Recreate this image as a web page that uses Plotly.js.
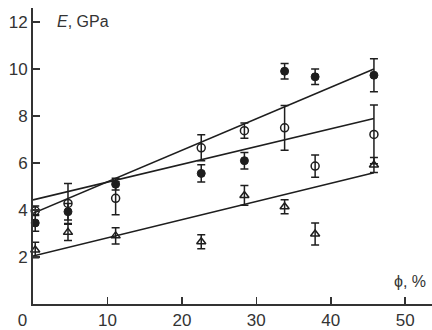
<!DOCTYPE html>
<html><head><meta charset="utf-8">
<script src="https://cdn.plot.ly/plotly-3.0.1.min.js"></script>
<style>html,body{margin:0;padding:0;background:#fff}#c{width:432px;height:330px}</style>
</head><body><div id="c"></div>
<script>
// phi, % positions
const phiFilled = [0.3, 4.7, 11.1, 22.6, 28.4, 33.8, 37.9, 45.8];
const eFilled   = [3.45, 3.93, 5.1, 5.56, 6.1, 9.91, 9.67, 9.74];
const errFilled = [0.35, 0.35, 0.25, 0.37, 0.35, 0.33, 0.33, 0.7];

const phiOpen = [0.3, 4.7, 11.1, 22.6, 28.4, 33.8, 37.9, 45.8];
const eOpen   = [3.97, 4.28, 4.5, 6.65, 7.38, 7.5, 5.87, 7.22];
const errOpen = [0.2, 0.85, 0.7, 0.55, 0.32, 0.95, 0.47, 1.25];

const phiTri = [0.3, 4.7, 11.1, 22.6, 28.4, 33.8, 37.9, 45.8];
const eTri   = [2.3, 3.05, 2.9, 2.65, 4.62, 4.14, 2.98, 5.92];
const errTri = [0.33, 0.35, 0.35, 0.3, 0.42, 0.3, 0.47, 0.32];

// fitted straight lines (endpoints)
const fitPhi    = [0, 45.8];
const fitFilled = [3.86, 10.0];
const fitOpen   = [4.43, 7.9];
const fitTri    = [2.04, 5.59];

const xTicks = [0, 10, 20, 30, 40, 50];
const xTickText = ['0\u2003\u2005', '10', '20', '30', '40', '50'];
const yTicks = [2, 4, 6, 8, 10, 12];

const ink = '#1e1e1e';
const eb = (a) => ({type:'data', array:a, visible:true, color:ink, thickness:1.5, width:4});
const lineTrace = (y) => ({x:fitPhi, y:y, mode:'lines', line:{color:ink, width:1.6}, hoverinfo:'skip', showlegend:false});

const data = [
  lineTrace(fitFilled), lineTrace(fitOpen), lineTrace(fitTri),
  {x:phiFilled, y:eFilled, mode:'markers', error_y:eb(errFilled), cliponaxis:false,
   marker:{symbol:'circle', size:8, color:ink, line:{color:ink, width:1}}},
  {x:phiOpen, y:eOpen, mode:'markers', error_y:eb(errOpen), cliponaxis:false,
   marker:{symbol:'circle-open', size:8, color:ink, line:{color:ink, width:1.5}}},
  {x:phiTri, y:eTri, mode:'markers', error_y:eb(errTri), cliponaxis:false,
   marker:{symbol:'triangle-up-open', size:8, color:ink, line:{color:ink, width:1.5}}}
];

const font = {family:'Liberation Sans, Arial, sans-serif', size:17, color:'#333'};
const layout = {
  width:432, height:330,
  margin:{l:33, r:0, t:8, b:26, pad:0},
  showlegend:false,
  plot_bgcolor:'#fff', paper_bgcolor:'#fff',
  font:font,
  xaxis:{range:[0, 53.6], tickvals:xTicks, ticktext:xTickText, ticks:'inside', ticklen:7, tickwidth:1.5, tickcolor:'#333',
         showline:true, linecolor:'#333', linewidth:2, showgrid:false, zeroline:false,
         tickfont:font, fixedrange:true},
  yaxis:{range:[0, 12.6], tickvals:yTicks, ticks:'inside', ticklen:7, tickwidth:1.5, tickcolor:'#333',
         showline:true, linecolor:'#333', linewidth:2, showgrid:false, zeroline:false,
         tickfont:font, fixedrange:true},
  annotations:[
    {xref:'paper', yref:'paper', x:0.055, y:0.955, xanchor:'left', yanchor:'middle', showarrow:false,
     text:'<i>E</i>, GPa', font:{family:font.family, size:16, color:'#333'}},
    {xref:'paper', yref:'paper', x:0.99, y:0.075, xanchor:'right', yanchor:'middle', showarrow:false,
     text:'ϕ, %', font:{family:font.family, size:16, color:'#333'}}
  ]
};
Plotly.newPlot('c', data, layout, {staticPlot:true, displayModeBar:false});
</script></body></html>
